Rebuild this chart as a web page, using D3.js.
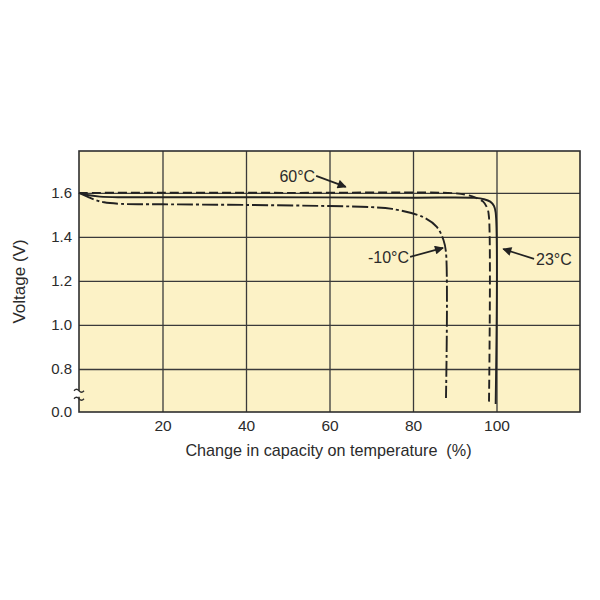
<!DOCTYPE html>
<html>
<head>
<meta charset="utf-8">
<script src="https://cdn.jsdelivr.net/npm/d3@7"></script>
<style>
  body { margin: 0; background: #fff; }
  text { font-family: "Liberation Sans", Arial, sans-serif; fill: #2b2b2b; }
</style>
</head>
<body>
<div id="chart"></div>
<script>
// capacity (%) / voltage (V)
var xTicks = [20, 40, 60, 80, 100];
var yTicks = [0.0, 0.8, 1.0, 1.2, 1.4, 1.6];

var cap23 = [0, 2, 5, 10, 40, 80, 95, 97, 98.5, 99.4, 99.8, 99.8];
var volt23 = [1.60, 1.59, 1.583, 1.58, 1.58, 1.578, 1.577, 1.571, 1.56, 1.54, 1.51, 0.15];

var cap60 = [0, 50, 90, 93, 95, 96.8, 97.8, 98.2, 98.2];
var volt60 = [1.60, 1.60, 1.598, 1.59, 1.578, 1.56, 1.53, 1.49, 0.17];

var capM10 = [0, 2, 4, 6, 10, 20, 40, 60, 70, 75, 82.4, 85.7, 87.3, 87.9, 87.9];
var voltM10 = [1.60, 1.583, 1.567, 1.557, 1.55, 1.548, 1.545, 1.54, 1.535, 1.527, 1.49, 1.445, 1.386, 1.33, 0.26];

var seriesNames = ["23°C", "60°C", "-10°C"];

// label spot and arrow tip, in chart units
var notes = [
  { text: "60°C", x: 56.8, v: 1.677, tx: 63.9, tv: 1.627, anchor: "end" },
  { text: "-10°C", x: 79.3, v: 1.309, tx: 87.2, tv: 1.35, anchor: "end" },
  { text: "23°C", x: 109, v: 1.30, tx: 101.6, tv: 1.345, anchor: "start" }
];

var W = 600, H = 600;
var margin = { top: 151, right: 20, bottom: 188, left: 79 };
var width = W - margin.left - margin.right,
    height = H - margin.top - margin.bottom;

var svg = d3.select("#chart").append("svg")
  .attr("width", W).attr("height", H);

var defs = svg.append("defs");
defs.append("marker")
  .attr("id", "head")
  .attr("viewBox", "0 0 10 10")
  .attr("refX", 9).attr("refY", 5)
  .attr("markerWidth", 10).attr("markerHeight", 9)
  .attr("markerUnits", "userSpaceOnUse")
  .attr("orient", "auto")
  .append("path").attr("d", "M0,0 L10,5 L0,10 Z").attr("fill", "#222");

var g = svg.append("g")
  .attr("transform", "translate(" + margin.left + "," + margin.top + ")");

var x = d3.scaleLinear().domain([0, 120]).range([0, width]);
// broken axis: 0.0 sits one step under 0.8
var y = d3.scaleLinear().domain([0, 0.8, 1.79]).range([height, height - 43, 0]);

g.append("rect")
  .attr("width", width).attr("height", height)
  .attr("fill", "#fcf2c6");

// grid
g.append("g")
  .call(d3.axisBottom(x).tickValues(xTicks).tickSize(height).tickFormat(""))
  .call(function(s) { s.select(".domain").remove(); })
  .selectAll("line").attr("stroke", "#3a3a3a").attr("stroke-width", 1.3);

g.append("g")
  .call(d3.axisLeft(y).tickValues(yTicks.filter(function(d) { return d > 0; })).tickSize(-width).tickFormat(""))
  .call(function(s) { s.select(".domain").remove(); })
  .selectAll("line").attr("stroke", "#3a3a3a").attr("stroke-width", 1.3);

// tick labels
var xAx = g.append("g")
  .attr("transform", "translate(0," + height + ")")
  .call(d3.axisBottom(x).tickValues(xTicks).tickSize(0).tickPadding(8));
xAx.select(".domain").remove();
xAx.selectAll("text").attr("font-size", 15.5).style("font-family", "Liberation Sans, Arial, sans-serif").attr("fill", "#2b2b2b");

var yAx = g.append("g")
  .call(d3.axisLeft(y).tickValues(yTicks).tickSize(0).tickPadding(7).tickFormat(d3.format(".1f")));
yAx.select(".domain").remove();
yAx.selectAll("text").attr("font-size", 15).style("font-family", "Liberation Sans, Arial, sans-serif").attr("fill", "#2b2b2b");

// frame
g.append("rect")
  .attr("width", width).attr("height", height)
  .attr("fill", "none").attr("stroke", "#2e2e2e").attr("stroke-width", 1.6);

// axis break
var by = y(0.34);
g.append("rect")
  .attr("x", -3).attr("y", by - 3).attr("width", 5).attr("height", 6)
  .attr("fill", "#fff");
g.append("rect")
  .attr("x", 0.8).attr("y", by - 3).attr("width", 3).attr("height", 6)
  .attr("fill", "#fcf2c6");
[-4, 4].forEach(function(o) {
  g.append("path")
    .attr("d", "M-5," + (by + o + 1) + " q2.5,-3 5,0 t5,0")
    .attr("fill", "none").attr("stroke", "#2e2e2e").attr("stroke-width", 1.3);
});

var lineV = d3.line()
  .x(function(d) { return x(d[0]); })
  .y(function(d) { return y(d[1]); })
  .curve(d3.curveCatmullRom.alpha(0.5));

var series = [
  { name: seriesNames[0], pts: d3.zip(cap23, volt23), dash: null },
  { name: seriesNames[1], pts: d3.zip(cap60, volt60), dash: "9,4" },
  { name: seriesNames[2], pts: d3.zip(capM10, voltM10), dash: "16,3,3,3" }
];

g.selectAll(".curve")
  .data(series)
  .enter().append("path")
  .attr("class", "curve")
  .attr("d", function(d) { return lineV(d.pts); })
  .attr("fill", "none")
  .attr("stroke", "#222")
  .attr("stroke-width", 1.9)
  .attr("stroke-dasharray", function(d) { return d.dash; });

// annotations
notes.forEach(function(n) {
  var lx = x(n.x), ly = y(n.v);
  g.append("line")
    .attr("x1", lx).attr("y1", ly)
    .attr("x2", x(n.tx)).attr("y2", y(n.tv))
    .attr("stroke", "#222").attr("stroke-width", 1.7)
    .attr("marker-end", "url(#head)");
  g.append("text")
    .attr("x", n.anchor == "end" ? lx - 1 : lx + 2)
    .attr("y", ly + 6)
    .attr("text-anchor", n.anchor)
    .attr("font-size", 16)
    .text(n.text);
});

// axis titles
g.append("text")
  .attr("x", width / 2 - 1)
  .attr("y", height + 44)
  .attr("text-anchor", "middle")
  .attr("font-size", 16.2)
  .text("Change in capacity on temperature\u00a0 (%)");

g.append("text")
  .attr("transform", "rotate(-90)")
  .attr("x", -(281.5 - margin.top))
  .attr("y", -54)
  .attr("text-anchor", "middle")
  .attr("font-size", 17)
  .text("Voltage (V)");
</script>
</body>
</html>
